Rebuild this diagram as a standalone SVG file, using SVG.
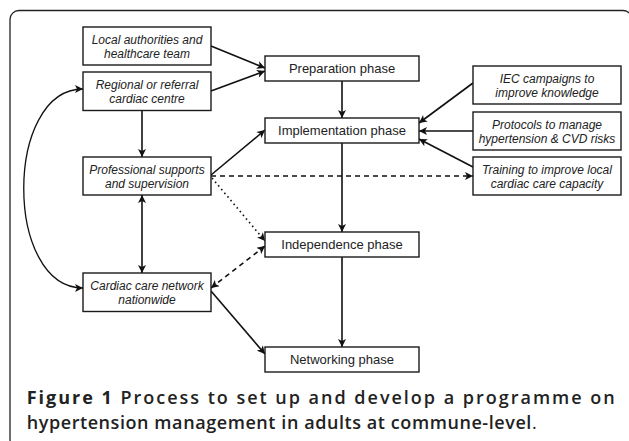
<svg xmlns="http://www.w3.org/2000/svg" width="629" height="441" viewBox="0 0 629 441">
<defs>
<style>
.box{fill:#fff;stroke:#1a1a1a;stroke-width:1.4}
.it{font-family:"Liberation Sans",Arial,sans-serif;font-size:12px;font-style:italic;fill:#222;text-anchor:middle}
.ph{font-family:"Liberation Sans",Arial,sans-serif;font-size:13px;fill:#222;text-anchor:middle}
.ln{fill:none;stroke:#111;stroke-width:1.6}
.dash{stroke-dasharray:5 4}
.dot{stroke-dasharray:1.6 3.2}
.cap{font-family:"Open Sans","Noto Sans","DejaVu Sans",sans-serif;font-size:18px;font-weight:600;fill:#222}
</style>
<marker id="arr" viewBox="0 0 10 10" refX="10" refY="5" markerWidth="9" markerHeight="8" markerUnits="userSpaceOnUse" orient="auto-start-reverse">
<path d="M0,0 L10,5 L0,10 L2.5,5 z" fill="#111"/>
</marker>
</defs>
<rect x="10" y="10.5" width="622" height="438" rx="9" fill="none" stroke="#222" stroke-width="1.3"/>
<g id="connectors">
<line class="ln" x1="211" y1="46" x2="265" y2="68" marker-end="url(#arr)"/>
<line class="ln" x1="211" y1="91" x2="265" y2="71" marker-end="url(#arr)"/>
<line class="ln" x1="142" y1="111" x2="142" y2="157" marker-end="url(#arr)"/>
<line class="ln" x1="211" y1="175" x2="265" y2="130" marker-end="url(#arr)"/>
<line class="ln dash" x1="211" y1="176" x2="473" y2="176" marker-end="url(#arr)"/>
<line class="ln dot" x1="212" y1="178" x2="265" y2="241" marker-end="url(#arr)"/>
<line class="ln dash" x1="211" y1="288" x2="265" y2="246" marker-start="url(#arr)" marker-end="url(#arr)"/>
<line class="ln" x1="211" y1="291" x2="265" y2="354" marker-end="url(#arr)"/>
<line class="ln" x1="142" y1="195" x2="142" y2="273" marker-start="url(#arr)" marker-end="url(#arr)"/>
<line class="ln" x1="342" y1="81" x2="342" y2="118" marker-end="url(#arr)"/>
<line class="ln" x1="342" y1="143" x2="342" y2="232" marker-end="url(#arr)"/>
<line class="ln" x1="342" y1="257" x2="342" y2="347" marker-end="url(#arr)"/>
<line class="ln" x1="473" y1="83" x2="419" y2="123" marker-end="url(#arr)"/>
<line class="ln" x1="473" y1="131" x2="419" y2="131" marker-end="url(#arr)"/>
<line class="ln" x1="473" y1="167" x2="419" y2="139" marker-end="url(#arr)"/>
<path class="ln" style="stroke-width:1.3" d="M83,89 C4,89 4,288 83,288" marker-start="url(#arr)" marker-end="url(#arr)"/>
</g>
<g id="local">
<rect class="box" x="83" y="27" width="128" height="38"/>
<text class="it" x="147" y="44.3">Local authorities and</text>
<text class="it" x="147" y="57.7">healthcare team</text>
</g>
<g id="regional">
<rect class="box" x="83" y="72" width="128" height="38.5"/>
<text class="it" x="147" y="89.3">Regional or referral</text>
<text class="it" x="147" y="102.7">cardiac centre</text>
</g>
<g id="professional">
<rect class="box" x="83" y="157" width="128" height="38"/>
<text class="it" x="147" y="174.3">Professional supports</text>
<text class="it" x="147" y="187.7">and supervision</text>
</g>
<g id="network">
<rect class="box" x="83" y="273" width="128" height="38.5"/>
<text class="it" x="147" y="290.3">Cardiac care network</text>
<text class="it" x="147" y="303.7">nationwide</text>
</g>
<g id="preparation">
<rect class="box" x="265" y="56" width="154" height="25"/>
<text class="ph" x="342" y="73">Preparation phase</text>
</g>
<g id="implementation">
<rect class="box" x="265" y="118" width="154" height="25"/>
<text class="ph" x="342" y="135">Implementation phase</text>
</g>
<g id="independence">
<rect class="box" x="265" y="232" width="154" height="25"/>
<text class="ph" x="342" y="249">Independence phase</text>
</g>
<g id="networking">
<rect class="box" x="265" y="347" width="154" height="25"/>
<text class="ph" x="342" y="364">Networking phase</text>
</g>
<g id="iec">
<rect class="box" x="473" y="66" width="148" height="38"/>
<text class="it" x="547" y="83.3">IEC campaigns to</text>
<text class="it" x="547" y="96.7">improve knowledge</text>
</g>
<g id="protocols">
<rect class="box" x="473" y="112" width="148" height="38"/>
<text class="it" x="547" y="129.3">Protocols to manage</text>
<text class="it" x="547" y="142.7">hypertension &amp; CVD risks</text>
</g>
<g id="training">
<rect class="box" x="473" y="157" width="148" height="38"/>
<text class="it" x="547" y="174.3">Training to improve local</text>
<text class="it" x="547" y="187.7">cardiac care capacity</text>
</g>
<g id="caption">
<text class="cap" x="26.7" y="403.5" textLength="588" lengthAdjust="spacing"><tspan font-weight="700">Figure 1</tspan> Process to set up and develop a programme on</text>
<text class="cap" x="26.7" y="428.5" textLength="510" lengthAdjust="spacing">hypertension management in adults at commune-level<tspan font-weight="400">.</tspan></text>
</g>
</svg>
